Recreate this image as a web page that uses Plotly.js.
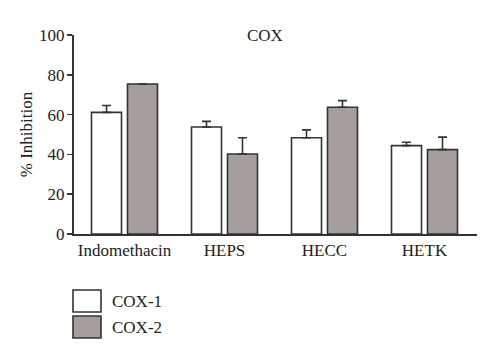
<!DOCTYPE html>
<html>
<head>
<meta charset="utf-8">
<script src="https://cdn.plot.ly/plotly-3.0.1.min.js"></script>
<style>html,body{margin:0;padding:0;background:#fff;}#chart{width:500px;height:362px;}</style>
</head>
<body>
<div id="chart"></div>
<script>
var categories = ["Indomethacin", "HEPS", "HECC", "HETK"];
var seriesNames = ["COX-1", "COX-2"];
var cox1Values = [61.1, 53.8, 48.4, 44.4];
var cox1Errors = [3.5, 2.8, 3.9, 1.7];
var cox2Values = [75.4, 40.2, 63.7, 42.4];
var cox2Errors = [0, 8.2, 3.3, 6.3];
var yTicks = [0, 20, 40, 60, 80, 100];

var FONT = "Liberation Serif";
var INK = "#333333";
var TXT = "#222222";
var colors = ["#ffffff", "#a69d9d"];

function barTrace(name, vals, errs, color, offset) {
  return {
    type: "bar",
    name: name,
    x: categories,
    y: vals,
    width: 0.3,
    offset: offset,
    marker: {color: color, line: {color: INK, width: 1.6}},
    error_y: {type: "data", array: errs, symmetric: false, arrayminus: errs.map(function(){return 0;}),
              visible: true, color: INK, thickness: 1.6, width: 4.5},
    showlegend: false,
    hoverinfo: "skip"
  };
}

var data = [
  barTrace(seriesNames[0], cox1Values, cox1Errors, colors[0], -0.33),
  barTrace(seriesNames[1], cox2Values, cox2Errors, colors[1], 0.03)
];

var shapes = [];
var annotations = [{
  text: "COX", xref: "paper", yref: "paper", x: 0.475, y: 1.0, yanchor: "bottom", xanchor: "center",
  yshift: -12, showarrow: false, font: {family: FONT, size: 17, color: TXT}
}];
var legTop = 290, boxH = 22, boxW = 28, rowStep = 26, legLeft = 73;
seriesNames.forEach(function(nm, i) {
  var y0 = legTop + i * rowStep;
  shapes.push({type: "rect", xref: "paper", yref: "paper",
    x0: (legLeft - 74) / 403, x1: (legLeft + boxW - 74) / 403,
    y0: (234 - y0) / 199, y1: (234 - y0 - boxH) / 199,
    fillcolor: colors[i], line: {color: INK, width: 1.6}});
  annotations.push({text: nm, xref: "paper", yref: "paper",
    x: (110 - 74) / 403, y: (234 - y0 - boxH / 2) / 199, xanchor: "left", yanchor: "middle",
    showarrow: false, font: {family: FONT, size: 17, color: TXT}});
});

var layout = {
  width: 500, height: 362,
  margin: {l: 74, r: 23, t: 35, b: 128, pad: 0},
  paper_bgcolor: "#fff", plot_bgcolor: "#fff",
  barmode: "overlay",
  font: {family: FONT, size: 17, color: TXT},
  xaxis: {
    type: "category", range: [-0.505, 3.525],
    showline: true, linecolor: INK, linewidth: 2, ticks: "", showgrid: false, zeroline: false,
    tickfont: {family: FONT, size: 17, color: TXT}, fixedrange: true
  },
  yaxis: {
    range: [0, 100], tickvals: yTicks, ticktext: yTicks.map(String),
    showline: true, linecolor: INK, linewidth: 2, ticks: "outside", ticklen: 5, tickwidth: 1.5, tickcolor: INK,
    ticklabelstandoff: -1,
    showgrid: false, zeroline: false,
    title: {text: "% Inhibition", font: {family: FONT, size: 17, color: TXT}, standoff: 2},
    tickfont: {family: FONT, size: 17, color: TXT}, fixedrange: true
  },
  shapes: shapes,
  annotations: annotations
};

Plotly.newPlot("chart", data, layout, {displayModeBar: false, staticPlot: true});
</script>
</body>
</html>
